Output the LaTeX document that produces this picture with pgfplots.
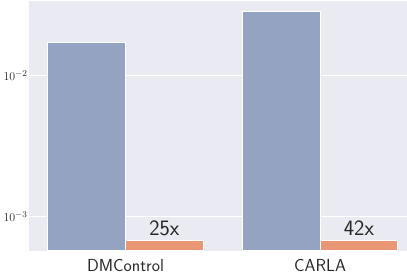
\documentclass[border=0pt]{standalone}
\usepackage{pgfplots}
\pgfplotsset{compat=1.18}
\definecolor{bg}{RGB}{234,234,242}
\definecolor{barblue}{RGB}{149,163,195}
\definecolor{barorange}{RGB}{233,150,117}
\definecolor{txt}{RGB}{38,38,38}
\begin{document}
\begin{tikzpicture}
\begin{axis}[
  scale only axis,
  width=378bp, height=249.7bp,
  ymode=log,
  log origin y=infty,
  ymin=0.000570, ymax=0.03366,
  xmin=-0.496, xmax=1.447,
  axis background/.style={fill=bg},
  axis line style={draw=none},
  major tick length=0pt,
  minor tick length=0pt,
  ymajorgrids,
  major grid style={white, line width=1.1bp},
  ytick={0.001,0.01},
  yticklabels={$10^{-3}$,$10^{-2}$},
  xtick={0,1},
  xticklabels={DMControl,CARLA},
  tick label style={text=txt},
  x tick label style={font=\sffamily\fontsize{17.5}{20}\selectfont, yshift=-5bp},
  y tick label style={font=\fontsize{12.5}{14}\selectfont, xshift=2bp},
]
\addplot[ybar, bar width=0.4, bar shift=0pt, fill=barblue, draw=white, line width=0.8bp]
  coordinates {(-0.2,0.01714) (0.8,0.0283)};
\addplot[ybar, bar width=0.4, bar shift=0pt, fill=barorange, draw=white, line width=0.8bp,
  point meta=explicit symbolic, nodes near coords,
  every node near coord/.append style={font=\sffamily\fontsize{22}{24}\selectfont, text=txt, yshift=1bp}]
  coordinates {(0.2,0.000676) [25x] (1.2,0.000673) [42x]};
\end{axis}
\pgfresetboundingbox
\path[use as bounding box] ([shift={(-29bp,-28.3bp)}]current axis.south west) rectangle ([shift={(0bp,1bp)}]current axis.north east);
\end{tikzpicture}
\end{document}
